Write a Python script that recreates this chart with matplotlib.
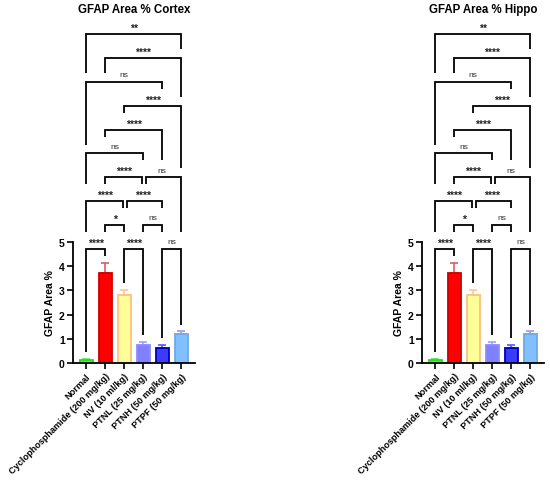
import matplotlib
matplotlib.use('Agg')
import matplotlib.pyplot as plt

plt.rcParams['font.family'] = ['Liberation Sans', 'DejaVu Sans']

groups = ['Normal', 'Cyclophosphamide (200 mg/kg)', 'NV (10 ml/kg)',
          'PTNL (25 mg/kg)', 'PTNH (50 mg/kg)', 'PTPF (50 mg/kg)']
means = [0.12, 3.74, 2.81, 0.74, 0.64, 1.19]
errors = [0.04, 0.40, 0.21, 0.14, 0.12, 0.12]

panels = ['GFAP Area % Cortex', 'GFAP Area % Hippo']

# pairwise comparisons (group a, group b, label)
comparisons = [(0, 1, '****'), (2, 3, '****'), (4, 5, 'ns'),
               (1, 2, '*'), (3, 4, 'ns'),
               (0, 2, '****'), (2, 4, '****'),
               (1, 3, '****'), (3, 5, 'ns'),
               (0, 3, 'ns'), (1, 4, '****'), (2, 5, '****'),
               (0, 4, 'ns'), (1, 5, '****'), (0, 5, '**')]
bracket_rows = [0, 0, 0, 1, 1, 2, 2, 3, 3, 4, 5, 6, 7, 8, 9]

fill_colors = ['#33FF33', '#FF0000', '#FFFF99', '#8080FF', '#3B3BFF', '#80C0FF']
edge_colors = ['#22DD22', '#CC0000', '#FFC080', '#8C8CFF', '#0000B8', '#6FA8E6']
err_colors = ['#55EE55', '#D86060', '#F8C890', '#A0A0FF', '#5555FF', '#9A9AEE']

row_base = 4.72
row_step = 0.985
text_w = {'****': 1.0, 'ns': 0.5, '**': 0.5, '*': 0.2}


def draw_panel(ax, title):
    x = list(range(len(groups)))
    ax.bar(x, means, width=0.67, color=fill_colors, edgecolor=edge_colors,
           linewidth=1.3, zorder=2)
    for i in x:
        ax.errorbar(i, means[i], yerr=[[0], [errors[i]]], fmt='none',
                    ecolor=err_colors[i], elinewidth=1.2, capsize=3,
                    capthick=1.2, zorder=1)

    tops = [m + e for m, e in zip(means, errors)]
    ys = [row_base + row_step * r for r in bracket_rows]

    for k, (a, b, lab) in enumerate(comparisons):
        y = ys[k]

        def leg_bottom(col):
            obs = [tops[col] + 0.28]
            for j, (a2, b2, lab2) in enumerate(comparisons):
                if bracket_rows[j] >= bracket_rows[k]:
                    continue
                if a2 <= col <= b2:
                    obs.append(ys[j] + 0.37)
                if abs(col - (a2 + b2) / 2) <= text_w[lab2] / 2 + 0.5 + 1e-9:
                    obs.append(ys[j] + 0.70)
            return max(obs)

        # nudge legs that share a column with a bracket on the same row
        xa, xb = a, b
        for j, (a2, b2, _) in enumerate(comparisons):
            if j != k and bracket_rows[j] == bracket_rows[k]:
                if b2 == a:
                    xa = a + 0.12
                if a2 == b:
                    xb = b - 0.09
        ax.plot([xa, xa, xb, xb], [leg_bottom(a), y, y, leg_bottom(b)],
                color='black', lw=1.3, solid_capstyle='butt',
                solid_joinstyle='miter', clip_on=False, zorder=3)
        if lab == 'ns':
            ax.text((a + b) / 2, y + 0.15, lab, ha='center', va='bottom',
                    fontsize=6, color='#333333')
        else:
            ax.text((a + b) / 2, y + 0.04, lab, ha='center', va='bottom',
                    fontsize=7.5, fontweight='bold', color='#222222')

    ax.set_xlim(-0.7, 5.7)
    ax.set_ylim(0, 14.2)
    ax.set_yticks(range(6))
    ax.set_xticks(x)
    ax.set_xticklabels(groups, rotation=45, ha='right', va='top',
                       rotation_mode='anchor', fontsize=6.6, fontweight='bold')
    for t in ax.get_yticklabels():
        t.set_fontweight('bold')
        t.set_fontsize(7.5)
    ax.tick_params(axis='both', direction='out', length=4, width=1.2, pad=2)
    ax.spines['top'].set_visible(False)
    ax.spines['right'].set_visible(False)
    ax.spines['left'].set_bounds(0, 5)
    ax.spines['left'].set_linewidth(1.3)
    ax.spines['bottom'].set_linewidth(1.3)
    ax.set_ylabel('GFAP Area %', fontsize=7.5, fontweight='bold')
    ax.yaxis.set_label_coords(-0.15, 2.5 / 14.2)
    ax.set_title(title, fontsize=8.3, fontweight='bold', pad=5)


fig = plt.figure(figsize=(5.5, 4.81), dpi=100)
ax1 = fig.add_axes([0.1327, 0.2432, 0.2211, 0.7144])
ax2 = fig.add_axes([0.7673, 0.2432, 0.2211, 0.7144])
draw_panel(ax1, panels[0])
draw_panel(ax2, panels[1])

fig.savefig('out.png', dpi=100)
